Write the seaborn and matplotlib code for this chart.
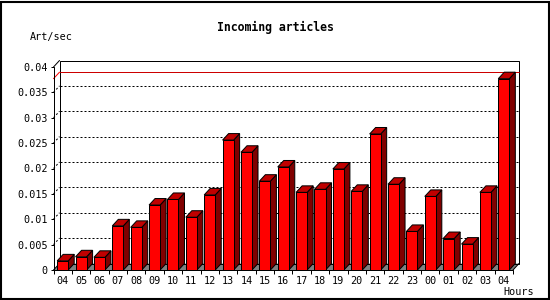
import matplotlib
matplotlib.use("Agg")
import matplotlib.pyplot as plt
from matplotlib.patches import Polygon, Rectangle
from matplotlib.ticker import FixedLocator
import seaborn as sns
import pandas as pd

# ---- data ----
hours = ["04", "05", "06", "07", "08", "09", "10", "11", "12", "13", "14", "15", "16",
         "17", "18", "19", "20", "21", "22", "23", "00", "01", "02", "03", "04"]
values = [0.0018, 0.0026, 0.0025, 0.0087, 0.0084, 0.0128, 0.0139, 0.0104, 0.0148,
          0.0256, 0.0232, 0.0175, 0.0203, 0.0153, 0.0159, 0.0199, 0.0155, 0.0268,
          0.0169, 0.0076, 0.0145, 0.0062, 0.0051, 0.0153, 0.0377]
yticks = [0, 0.005, 0.01, 0.015, 0.02, 0.025, 0.03, 0.035, 0.04]
ytick_labels = ["0", "0.005", "0.01", "0.015", "0.02", "0.025", "0.03", "0.035", "0.04"]
title = "Incoming articles"
ylabel = "Art/sec"
xlabel = "Hours"

sns.set_style("white")
plt.rcParams["font.family"] = ["DejaVu Sans Mono", "DejaVu Sans"]

W, H = 550, 300
fig = plt.figure(figsize=(W / 100, H / 100), dpi=100)
fig.patch.set_facecolor("white")
ax = fig.add_axes([53.5 / W, 30 / H, 459.5 / W, 203 / H])

df = pd.DataFrame({"pos": list(range(len(values))), "val": values})
sns.barplot(data=df, x="pos", y="val", color="#ff0000", saturation=1,
            width=0.6, edgecolor="black", linewidth=0.72, ax=ax, zorder=5)

n = len(values)
ax.set_xlim(-0.5, n - 0.5)
ax.set_ylim(0, 0.04)
ax.set_facecolor("none")
for s in ax.spines.values():
    s.set_visible(False)

# pixel -> data offsets for the 3D depth
sx = ax.bbox.width / n
sy = ax.bbox.height / 0.04
DXP, DYP = 6, 6.5
dx = DXP / sx
dy = DYP / sy
x0, x1 = -0.5, n - 0.5
ymax = 0.04
lw = 0.72

# floor
ax.add_patch(Polygon([(x0, 0), (x1, 0), (x1 + dx, dy), (x0 + dx, dy)], closed=True,
                     facecolor="#808080", edgecolor="none", zorder=1, clip_on=False))
# back wall outline
ax.add_patch(Rectangle((x0 + dx, dy), x1 - x0, ymax, facecolor="none",
                       edgecolor="black", lw=lw, zorder=2, clip_on=False))
# left wall edges
ax.plot([x0, x0], [0, ymax], color="black", lw=lw, zorder=3, clip_on=False)
ax.plot([x0, x0 + dx], [ymax, ymax + dy], color="black", lw=lw, zorder=3, clip_on=False)
ax.plot([x0, x0 + dx], [0, dy], color="black", lw=lw, zorder=3, clip_on=False)
# front bottom axis
ax.plot([x0, x1], [0, 0], color="black", lw=lw, zorder=6, clip_on=False)
ax.plot([x1, x1 + dx], [0, dy], color="black", lw=lw, zorder=3, clip_on=False)

# dotted grid on left & back walls
for v in yticks[1:-1]:
    ax.plot([x0, x0 + dx], [v, v + dy], color="black", lw=lw, ls=(0, (2, 2)),
            zorder=2, clip_on=False)
    ax.plot([x0 + dx, x1 + dx], [v + dy, v + dy], color="black", lw=lw,
            ls=(0, (2, 2)), zorder=2, clip_on=False)

# red max line
vmax = max(values)
ax.plot([x0, x0 + dx], [vmax, vmax + dy], color="#ff0000", lw=lw, zorder=2, clip_on=False)
ax.plot([x0 + dx, x1 + dx], [vmax + dy, vmax + dy], color="#cc0000", lw=lw,
        zorder=2, clip_on=False)

# 3D faces for bars, built from the library's bar patches
for p in ax.patches[:]:
    if not isinstance(p, Rectangle) or p.get_zorder() != 5:
        continue
    bx, bw, bh = p.get_x(), p.get_width(), p.get_height()
    if bh <= 0:
        continue
    side = [(bx + bw, 0), (bx + bw + dx, dy), (bx + bw + dx, bh + dy), (bx + bw, bh)]
    top = [(bx, bh), (bx + dx, bh + dy), (bx + bw + dx, bh + dy), (bx + bw, bh)]
    ax.add_patch(Polygon(side, closed=True, facecolor="#800000", edgecolor="black",
                         lw=lw, zorder=4, clip_on=False, joinstyle="miter"))
    ax.add_patch(Polygon(top, closed=True, facecolor="#c00000", edgecolor="black",
                         lw=lw, zorder=4, clip_on=False, joinstyle="miter"))

# ticks
ax.set_yticks(yticks)
ax.set_yticklabels(ytick_labels)
ax.set_xticks(list(range(n)))
ax.set_xticklabels(hours)
ax.xaxis.set_minor_locator(FixedLocator([i - 0.5 for i in range(n + 1)]))
ax.tick_params(axis="y", which="major", left=True, length=3 * 0.72, width=lw,
               color="black", pad=2, labelsize=7.3, labelcolor="black")
ax.tick_params(axis="x", which="major", bottom=True, length=0, pad=4.5,
               labelsize=7.3, labelcolor="black")
ax.tick_params(axis="x", which="minor", bottom=True, length=3.5 * 0.72, width=lw,
               color="black")
ax.set_xlabel("")
ax.set_ylabel("")

# texts
fig.text(275 / W, 1 - 27 / H, title, ha="center", va="center", fontsize=8.3,
         fontweight="bold", color="black")
fig.text(30 / W, 1 - 37 / H, ylabel, ha="left", va="center", fontsize=7.3, color="black")
fig.text(534 / W, 1 - 292 / H, xlabel, ha="right", va="center", fontsize=7.3,
         color="black")

# figure frame
fig.patches.append(Rectangle((1 / W, 1 / H), (W - 2.5) / W, (H - 2.5) / H,
                             transform=fig.transFigure, facecolor="none",
                             edgecolor="black", lw=1.5, zorder=10))

fig.savefig("out.png", dpi=100, facecolor="white")
